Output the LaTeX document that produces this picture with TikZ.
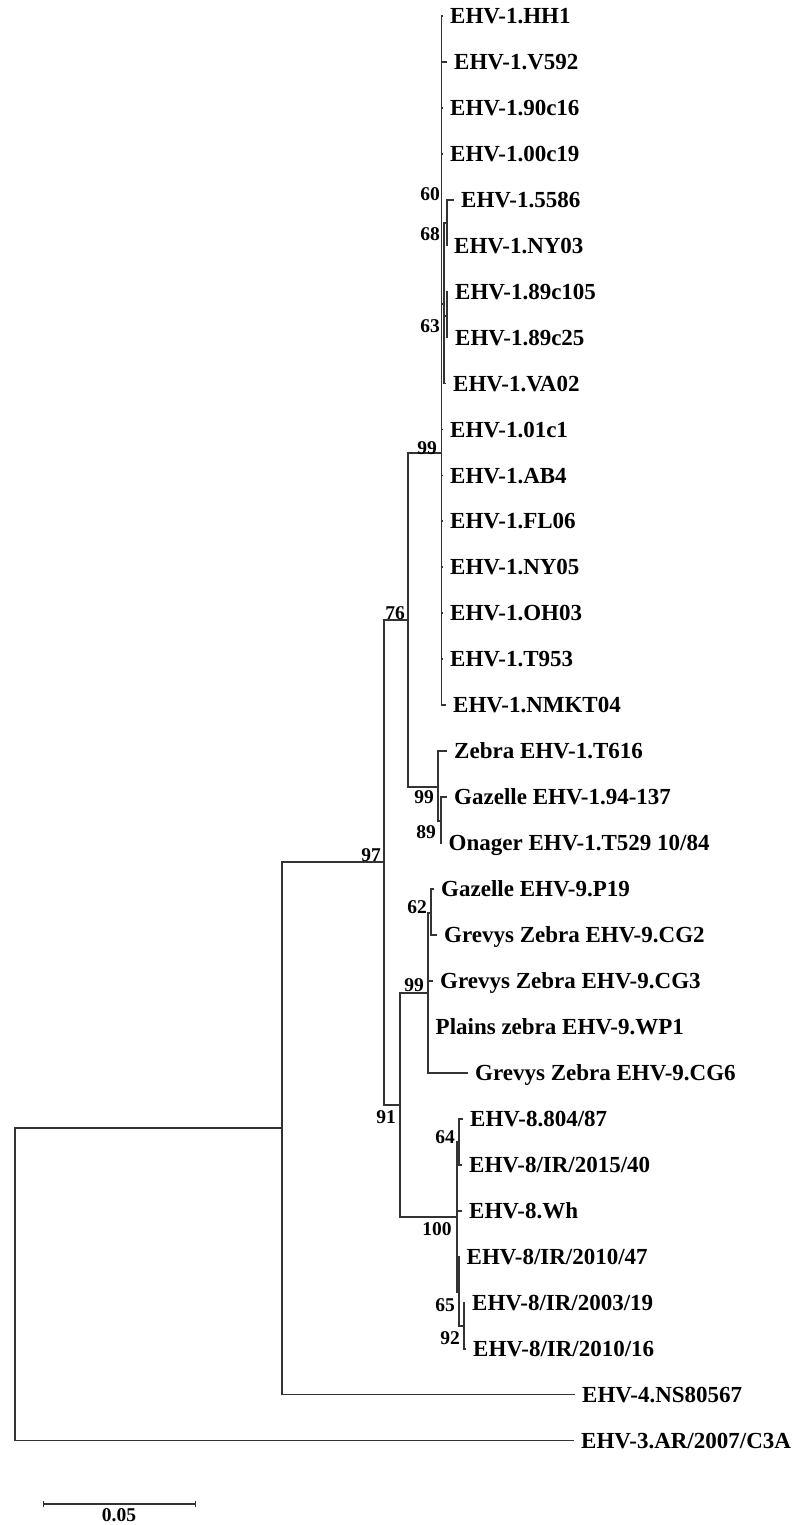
\documentclass[tikz,border=0pt]{standalone}
\usepackage{fontspec}
\setmainfont{Liberation Serif}
\usetikzlibrary{arrows.meta}

\begin{document}
\begin{tikzpicture}[x=1pt,y=-1pt,
  branch/.style={draw=black!80,line width=1.3pt},
  lab/.style={anchor=base west,inner sep=0pt,xshift=7pt,yshift=-7.6pt,font=\fontsize{23}{26}\selectfont\bfseries},
  bs/.style={inner sep=0pt,font=\fontsize{19.5}{22}\selectfont\bfseries}]
  \useasboundingbox (0,0) rectangle (809,1525);
  \coordinate (root) at (15,1284);
  \coordinate (n1) at (282,1128);
  \coordinate (n97) at (384,862);
  \coordinate (n76) at (408,620);
  \coordinate (n99a) at (441.7,453);
  \coordinate (n60) at (444,304);
  \coordinate (n68) at (447,223);
  \coordinate (n63) at (447,316);
  \coordinate (n99b) at (438,787);
  \coordinate (n89) at (441,821);
  \coordinate (n91) at (400,1105);
  \coordinate (n99c) at (428,993);
  \coordinate (n62) at (431,913);
  \coordinate (n100) at (457,1217);
  \coordinate (n64) at (459,1142);
  \coordinate (n65) at (459,1292);
  \coordinate (n92) at (464,1326);
  \coordinate (t1) at (443,16);
  \coordinate (t2) at (447,62);
  \coordinate (t3) at (443,108);
  \coordinate (t4) at (443,154);
  \coordinate (t5) at (454,200);
  \coordinate (t6) at (447,245.5);
  \coordinate (t7) at (448,291.5);
  \coordinate (t8) at (448,337.5);
  \coordinate (t9) at (446,383.5);
  \coordinate (t10) at (443,429.5);
  \coordinate (t11) at (443,475.5);
  \coordinate (t12) at (443,521);
  \coordinate (t13) at (443,567);
  \coordinate (t14) at (443,613);
  \coordinate (t15) at (443,659);
  \coordinate (t16) at (446,705);
  \coordinate (t17) at (447,751);
  \coordinate (t18) at (447,797);
  \coordinate (t19) at (441.5,843);
  \coordinate (t20) at (434,889);
  \coordinate (t21) at (437,935);
  \coordinate (t22) at (433,981);
  \coordinate (t23) at (428.5,1027);
  \coordinate (t24) at (468,1073);
  \coordinate (t25) at (463,1119);
  \coordinate (t26) at (462,1165);
  \coordinate (t27) at (462,1211);
  \coordinate (t28) at (459.5,1257);
  \coordinate (t29) at (465,1303);
  \coordinate (t30) at (466,1349);
  \coordinate (t31) at (575,1394.5);
  \coordinate (t32) at (574,1440.5);

  \draw[branch] (root) |- (n1);
  \draw[branch] (root) |- (t32);
  \draw[branch] (n1) |- (n97);
  \draw[branch] (n1) |- (t31);
  \draw[branch] (n97) |- (n76);
  \draw[branch] (n97) |- (n91);
  \draw[branch] (n76) |- (n99a);
  \draw[branch] (n76) |- (n99b);
  \draw[branch] (n99a) |- (t1);
  \draw[branch] (n99a) |- (t2);
  \draw[branch] (n99a) |- (t3);
  \draw[branch] (n99a) |- (t4);
  \draw[branch] (n99a) |- (n60);
  \draw[branch] (n99a) |- (t10);
  \draw[branch] (n99a) |- (t11);
  \draw[branch] (n99a) |- (t12);
  \draw[branch] (n99a) |- (t13);
  \draw[branch] (n99a) |- (t14);
  \draw[branch] (n99a) |- (t15);
  \draw[branch] (n99a) |- (t16);
  \draw[branch] (n60) |- (n68);
  \draw[branch] (n60) |- (n63);
  \draw[branch] (n60) |- (t9);
  \draw[branch] (n68) |- (t5);
  \draw[branch] (n68) |- (t6);
  \draw[branch] (n63) |- (t7);
  \draw[branch] (n63) |- (t8);
  \draw[branch] (n99b) |- (t17);
  \draw[branch] (n99b) |- (n89);
  \draw[branch] (n89) |- (t18);
  \draw[branch] (n89) |- (t19);
  \draw[branch] (n91) |- (n99c);
  \draw[branch] (n91) |- (n100);
  \draw[branch] (n99c) |- (n62);
  \draw[branch] (n99c) |- (t22);
  \draw[branch] (n99c) |- (t23);
  \draw[branch] (n99c) |- (t24);
  \draw[branch] (n62) |- (t20);
  \draw[branch] (n62) |- (t21);
  \draw[branch] (n100) |- (n64);
  \draw[branch] (n100) |- (t27);
  \draw[branch] (n100) |- (n65);
  \draw[branch] (n64) |- (t25);
  \draw[branch] (n64) |- (t26);
  \draw[branch] (n65) |- (t28);
  \draw[branch] (n65) |- (n92);
  \draw[branch] (n92) |- (t29);
  \draw[branch] (n92) |- (t30);

  \node[lab] (l1) at (t1) {EHV-1.HH1};
  \node[lab] (l2) at (t2) {EHV-1.V592};
  \node[lab] (l3) at (t3) {EHV-1.90c16};
  \node[lab] (l4) at (t4) {EHV-1.00c19};
  \node[lab] (l5) at (t5) {EHV-1.5586};
  \node[lab] (l6) at (t6) {EHV-1.NY03};
  \node[lab] (l7) at (t7) {EHV-1.89c105};
  \node[lab] (l8) at (t8) {EHV-1.89c25};
  \node[lab] (l9) at (t9) {EHV-1.VA02};
  \node[lab] (l10) at (t10) {EHV-1.01c1};
  \node[lab] (l11) at (t11) {EHV-1.AB4};
  \node[lab] (l12) at (t12) {EHV-1.FL06};
  \node[lab] (l13) at (t13) {EHV-1.NY05};
  \node[lab] (l14) at (t14) {EHV-1.OH03};
  \node[lab] (l15) at (t15) {EHV-1.T953};
  \node[lab] (l16) at (t16) {EHV-1.NMKT04};
  \node[lab] (l17) at (t17) {Zebra EHV-1.T616};
  \node[lab] (l18) at (t18) {Gazelle EHV-1.94-137};
  \node[lab] (l19) at (t19) {Onager EHV-1.T529 10/84};
  \node[lab] (l20) at (t20) {Gazelle EHV-9.P19};
  \node[lab] (l21) at (t21) {Grevys Zebra EHV-9.CG2};
  \node[lab] (l22) at (t22) {Grevys Zebra EHV-9.CG3};
  \node[lab] (l23) at (t23) {Plains zebra EHV-9.WP1};
  \node[lab] (l24) at (t24) {Grevys Zebra EHV-9.CG6};
  \node[lab] (l25) at (t25) {EHV-8.804/87};
  \node[lab] (l26) at (t26) {EHV-8/IR/2015/40};
  \node[lab] (l27) at (t27) {EHV-8.Wh};
  \node[lab] (l28) at (t28) {EHV-8/IR/2010/47};
  \node[lab] (l29) at (t29) {EHV-8/IR/2003/19};
  \node[lab] (l30) at (t30) {EHV-8/IR/2010/16};
  \node[lab] (l31) at (t31) {EHV-4.NS80567};
  \node[lab] (l32) at (t32) {EHV-3.AR/2007/C3A};

  \node[bs] (b60) at (430,194) {60};
  \node[bs] (b68) at (430,234) {68};
  \node[bs] (b63) at (430,326) {63};
  \node[bs] (b99a) at (427,448) {99};
  \node[bs] (b76) at (395,613) {76};
  \node[bs] (b97) at (371,855) {97};
  \node[bs] (b99b) at (424,797) {99};
  \node[bs] (b89) at (426,832) {89};
  \node[bs] (b62) at (417,907) {62};
  \node[bs] (b99c) at (414,985) {99};
  \node[bs] (b91) at (386,1117) {91};
  \node[bs] (b64) at (445,1137) {64};
  \node[bs] (b100) at (437,1229) {100};
  \node[bs] (b65) at (445,1305) {65};
  \node[bs] (b92) at (450,1338) {92};

  \coordinate (sb1) at (43,1504);
  \coordinate (sb2) at (196,1504);
  \draw[branch,{Bar[width=6pt]}-{Bar[width=6pt]}] (sb1) -- (sb2);
  \node[bs] (sblab) at (119,1515) {0.05};
\end{tikzpicture}
\end{document}
